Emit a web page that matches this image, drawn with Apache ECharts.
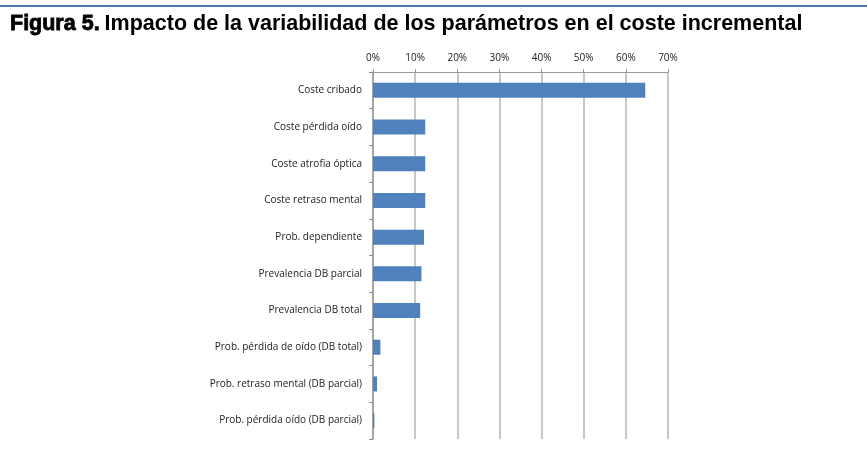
<!DOCTYPE html>
<html>
<head>
<meta charset="utf-8">
<script src="https://cdn.jsdelivr.net/npm/echarts@6/dist/echarts.min.js"></script>
<style>
  html, body { margin: 0; padding: 0; background: #fff; }
  #chart { width: 867px; height: 465px; }
</style>
</head>
<body>
<div id="chart"></div>
<script>
// Parameters, top to bottom
const categories = [
  'Coste cribado',
  'Coste pérdida oído',
  'Coste atrofia óptica',
  'Coste retraso mental',
  'Prob. dependiente',
  'Prevalencia DB parcial',
  'Prevalencia DB total',
  'Prob. pérdida de oído (DB total)',
  'Prob. retraso mental (DB parcial)',
  'Prob. pérdida oído (DB parcial)'
];
// Share of the incremental cost variability (%)
const impact = [64.6, 12.4, 12.4, 12.4, 12.1, 11.5, 11.2, 1.75, 0.95, 0.33];
const axisMin = 0;
const axisMax = 70;
const axisStep = 10;

const chart = echarts.init(document.getElementById('chart'), null, { renderer: 'canvas' });

chart.setOption({
  backgroundColor: '#ffffff',
  animation: false,
  title: {
    left: 5,
    top: 8,
    text: '{a|Figura 5.} {b|Impacto de la variabilidad de los parámetros en el coste incremental}',
    textStyle: {
      rich: {
        a: {
          fontFamily: 'Liberation Sans, Arial, sans-serif',
          fontWeight: 'bold',
          fontSize: 21.5,
          color: '#000',
          textBorderColor: '#000',
          textBorderWidth: 0.8
        },
        b: {
          fontFamily: 'Liberation Sans, Arial, sans-serif',
          fontWeight: 'bold',
          fontSize: 21.5,
          color: '#000'
        }
      }
    }
  },
  graphic: [{
    type: 'line',
    shape: { x1: 0, y1: 6, x2: 867, y2: 6 },
    style: { stroke: '#4f7ba3', lineWidth: 2 }
  }],
  grid: { left: 373, right: 199, top: 72, bottom: 26, containLabel: false },
  xAxis: {
    type: 'value',
    position: 'top',
    min: axisMin,
    max: axisMax,
    interval: axisStep,
    axisLine: { show: true, lineStyle: { color: '#9a9a9a', width: 1 } },
    axisTick: { show: true, length: 3, lineStyle: { color: '#9a9a9a' } },
    splitLine: { show: true, lineStyle: { color: '#b4b4b4', width: 1.5 } },
    axisLabel: {
      formatter: '{value}%',
      margin: 9,
      fontFamily: 'Open Sans, sans-serif',
      fontSize: 10,
      color: '#222'
    }
  },
  yAxis: {
    type: 'category',
    data: categories,
    inverse: true,
    axisLine: { show: true, lineStyle: { color: '#9a9a9a', width: 1.5 } },
    axisTick: { show: true, length: 4, lineStyle: { color: '#8a8a8a' } },
    axisLabel: {
      margin: 11,
      fontFamily: 'Open Sans, sans-serif',
      fontSize: 10,
      color: '#222'
    }
  },
  series: [{
    type: 'bar',
    data: impact,
    barWidth: 15,
    itemStyle: { color: '#4f81bd' }
  }]
});
</script>
</body>
</html>
